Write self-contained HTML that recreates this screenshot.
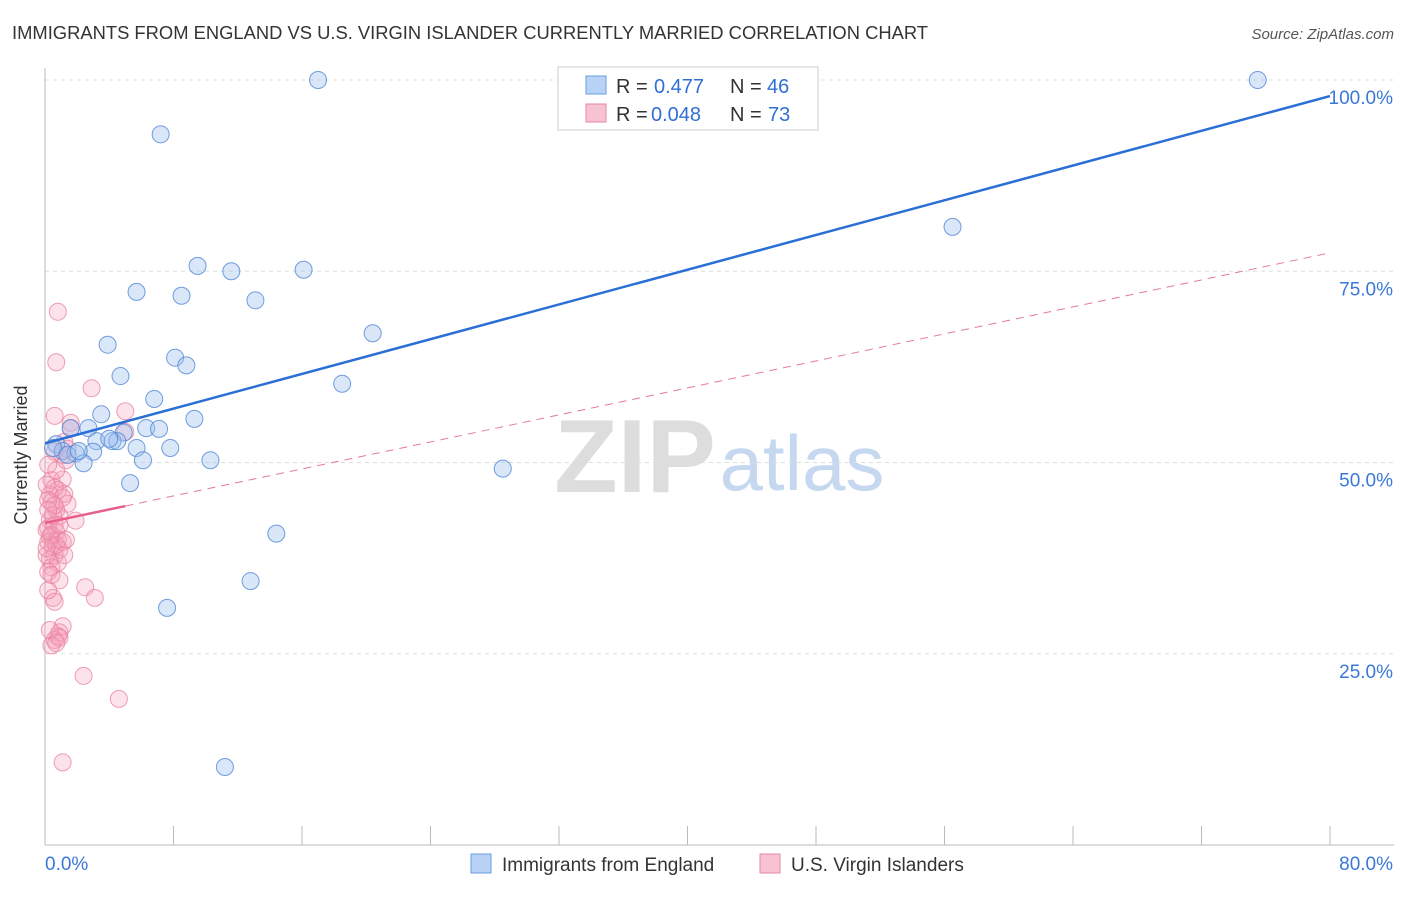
<!DOCTYPE html>
<html><head><meta charset="utf-8"><style>
body{margin:0;background:#fff;font-family:"Liberation Sans",sans-serif;}
svg text{font-family:"Liberation Sans",sans-serif;}
</style></head><body>
<svg id="c" width="1406" height="892">
<text x="12" y="39" font-size="18" fill="#333" textLength="916" lengthAdjust="spacingAndGlyphs">IMMIGRANTS FROM ENGLAND VS U.S. VIRGIN ISLANDER CURRENTLY MARRIED CORRELATION CHART</text>
<text x="1394" y="39" font-size="15" fill="#555" text-anchor="end" font-style="italic">Source: ZipAtlas.com</text>
<text x="27" y="455" font-size="18" fill="#333" text-anchor="middle" transform="rotate(-90 27 455)">Currently Married</text>
<g><text x="635" y="492" font-size="104" fill="#ddd" text-anchor="middle" font-family="Liberation Serif" font-weight="bold">ZIP</text><text x="802" y="490" font-size="78" fill="#c5d8f0" text-anchor="middle">atlas</text></g>
<g id="grid"></g><g id="axes"></g><g id="pts"></g><g id="trend"></g>
<g>
<rect x="558" y="67" width="260" height="63" fill="#fff" stroke="#ccc"/>
<rect x="586" y="76" width="20" height="18" fill="#b8d3f5" stroke="#6a9de0"/>
<text x="616" y="93" font-size="20" fill="#333">R =</text><text x="654" y="93" font-size="20" fill="#2f6fd6">0.477</text>
<text x="730" y="93" font-size="20" fill="#333">N =</text><text x="767" y="93" font-size="20" fill="#2f6fd6">46</text>
<rect x="586" y="104" width="20" height="18" fill="#f7c3d2" stroke="#e58aa5"/>
<text x="616" y="121" font-size="20" fill="#333">R =</text><text x="651" y="121" font-size="20" fill="#2f6fd6">0.048</text>
<text x="730" y="121" font-size="20" fill="#333">N =</text><text x="768" y="121" font-size="20" fill="#2f6fd6">73</text>
</g>
<g>
<rect x="471" y="854" width="20" height="19" fill="#b8d3f5" stroke="#6a9de0"/>
<text x="502" y="871" font-size="19" fill="#333">Immigrants from England</text>
<rect x="760" y="854" width="20" height="19" fill="#f7c3d2" stroke="#e58aa5"/>
<text x="791" y="871" font-size="19" fill="#333">U.S. Virgin Islanders</text>
</g>
</svg>
<script>
const blueX=[17.0,75.5,7.2,56.5,9.5,11.6,16.1,5.7,8.5,13.1,20.4,3.9,8.1,8.8,4.7,18.5,6.8,3.5,9.3,2.7,1.6,4.9,6.3,7.1,0.7,3.2,4.2,4.5,5.7,7.8,1.1,1.9,3.0,2.4,6.1,10.3,28.5,5.3,14.4,12.8,7.6,11.2,0.5,1.4,2.1,4.0];
const blueY=[100,100,92.9,80.8,75.7,75.0,75.2,72.3,71.8,71.2,66.9,65.4,63.7,62.7,61.3,60.3,58.3,56.3,55.7,54.5,54.5,53.9,54.5,54.4,52.4,52.8,52.8,52.8,51.9,51.9,51.5,51.2,51.4,49.9,50.3,50.3,49.2,47.3,40.7,34.5,31.0,10.2,51.9,51.0,51.5,53.1];
const pinkX=[0.8,0.7,2.9,5.0,0.6,1.6,5.0,1.6,1.2,1.1,0.6,1.4,0.4,1.1,0.8,1.2,0.3,0.6,1.4,0.4,0.7,0.9,1.9,0.3,0.2,0.6,0.7,0.3,0.8,1.1,0.2,0.5,0.9,0.6,0.3,0.8,0.4,0.2,2.5,3.1,0.5,0.6,1.1,0.9,0.8,0.6,0.4,0.9,2.4,4.6,1.1,0.1,0.2,0.5,0.1,0.4,0.7,0.1,0.4,0.9,0.2,0.7,1.1,1.3,0.2,0.6,0.9,0.1,1.2,0.3,0.7,1.3,0.2];
const pinkY=[69.7,63.1,59.7,56.7,56.1,55.2,54.0,54.5,52.7,51.0,51.4,51.8,47.7,47.8,46.4,45.9,45.8,46.7,44.6,44.8,43.8,43.0,42.4,42.5,41.4,41.8,40.9,40.3,39.9,39.6,39.6,39.0,38.6,37.9,37.3,36.9,36.3,35.7,33.7,32.3,32.3,31.8,28.6,27.8,27.3,26.8,26.1,27.1,22.1,19.1,10.8,47.1,45.1,43.1,41.2,40.5,39.2,37.9,35.3,34.6,33.3,49.0,45.4,50.3,49.7,44.4,41.8,38.8,37.9,28.1,26.4,39.9,43.8];
const blueTrend=[52.5,97.9];
const pinkTrend=[42.1,77.4];
const pinkSolidEnd=5.0;
const yTicks=[25,50,75,100];
const yTickLabels=["25.0%","50.0%","75.0%","100.0%"];
const xTicks=[0,8,16,24,32,40,48,56,64,72,80];

const NS="http://www.w3.org/2000/svg";
const sx=v=>45+v*16.0625, sy=v=>845-v*7.65;
function mk(p,t,a){const e=document.createElementNS(NS,t);for(const k in a)e.setAttribute(k,a[k]);p.appendChild(e);return e;}
const grid=document.getElementById('grid'),axes=document.getElementById('axes'),pts=document.getElementById('pts'),tr=document.getElementById('trend');
yTicks.forEach((v,i)=>{
 const l=mk(grid,'line',{x1:45,x2:1394,y1:sy(v),y2:sy(v),stroke:'#ddd','stroke-dasharray':'4,4'});
 
 
 const t=mk(axes,'text',{x:1393,y:sy(v)+24,'font-size':19,fill:'#3a78d8','text-anchor':'end'});
 t.textContent=yTickLabels[i];
 
 
});
const ya=mk(axes,'line',{x1:45,x2:45,y1:68,y2:845,stroke:'#bbb'});


const xa=mk(axes,'line',{x1:45,x2:1394,y1:845,y2:845,stroke:'#bbb'});


xTicks.forEach(v=>{
 const t=mk(axes,'line',{x1:sx(v),x2:sx(v),y1:826,y2:845,stroke:'#bbb'});
 
 
});
const x0=mk(axes,'text',{x:45,y:870,'font-size':19,fill:'#3a78d8'});x0.textContent=xTicks[0].toFixed(1)+'%';


const x1=mk(axes,'text',{x:1393,y:870,'font-size':19,fill:'#3a78d8','text-anchor':'end'});x1.textContent=xTicks[xTicks.length-1].toFixed(1)+'%';


pinkX.forEach((v,i)=>{
 const c=mk(pts,'circle',{cx:sx(v),cy:sy(pinkY[i]),r:8.5,fill:'rgba(245,160,185,0.3)',stroke:'#e8809c','stroke-width':1,'stroke-opacity':0.75});
 
 
});
blueX.forEach((v,i)=>{
 const c=mk(pts,'circle',{cx:sx(v),cy:sy(blueY[i]),r:8.5,fill:'rgba(160,195,240,0.4)',stroke:'#4f86d6','stroke-width':1,'stroke-opacity':0.8});
 
 
});
const bl=mk(tr,'line',{x1:sx(0),y1:sy(blueTrend[0]),x2:sx(80),y2:sy(blueTrend[1]),stroke:'#2a6fd6','stroke-width':2.5});


const py=x=>pinkTrend[0]+(pinkTrend[1]-pinkTrend[0])*x/80;
const pd=mk(tr,'line',{x1:sx(pinkSolidEnd),y1:sy(py(pinkSolidEnd)),x2:sx(80),y2:sy(pinkTrend[1]),stroke:'#e57a9a','stroke-width':1,'stroke-dasharray':'8,6'});


const ps=mk(tr,'line',{x1:sx(0),y1:sy(pinkTrend[0]),x2:sx(pinkSolidEnd),y2:sy(py(pinkSolidEnd)),stroke:'#e8608a','stroke-width':2.5});


</script>
</body></html>
